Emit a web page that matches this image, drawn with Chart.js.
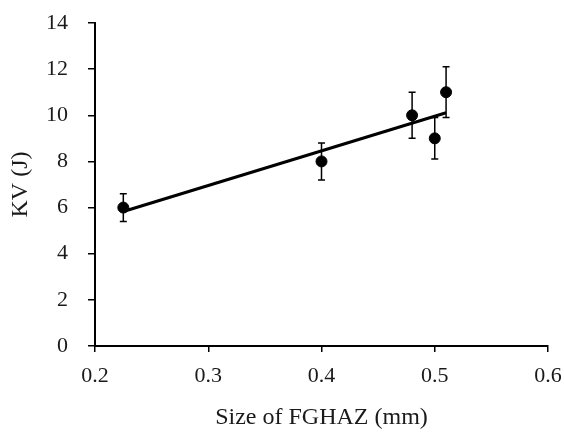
<!DOCTYPE html>
<html>
<head>
<meta charset="utf-8">
<script src="https://cdn.jsdelivr.net/npm/chart.js@4"></script>
<style>
  html, body { margin: 0; padding: 0; background: #fff; }
  #wrap { width: 564px; height: 432px; }
</style>
</head>
<body>
<div id="wrap"><canvas id="grafico" width="564" height="432"></canvas></div>
<script>
// valores
const tamanhoFGHAZ = [0.225, 0.4, 0.48, 0.5, 0.51]
const energiaKV = [6, 8, 10, 9, 11]
const erroKV = [0.6, 0.8, 1.0, 0.9, 1.1]
const tendenciaX = [0.225, 0.51]
const tendenciaY = [5.83, 10.11]

const fonteTicks = { family: '"Liberation Serif", serif', size: 22 }
const fonteTitulo = { family: '"Liberation Serif", serif', size: 24, lineHeight: 1 }

// barras de erro desenhadas com as escalas do proprio chart
const barrasErro = {
  id: 'barrasErro',
  afterDatasetsDraw(chart) {
    const { ctx, scales: { x, y } } = chart
    ctx.save()
    ctx.strokeStyle = '#000'
    ctx.lineWidth = 1.5
    tamanhoFGHAZ.forEach((v, i) => {
      const px = x.getPixelForValue(v)
      const yt = y.getPixelForValue(energiaKV[i] + erroKV[i])
      const yb = y.getPixelForValue(energiaKV[i] - erroKV[i])
      ctx.beginPath()
      ctx.moveTo(px, yt); ctx.lineTo(px, yb)
      ctx.moveTo(px - 3.5, yt); ctx.lineTo(px + 3.5, yt)
      ctx.moveTo(px - 3.5, yb); ctx.lineTo(px + 3.5, yb)
      ctx.stroke()
    })
    ctx.restore()
  }
}

new Chart(document.getElementById('grafico').getContext('2d'), {
  type: 'scatter',
  data: {
    datasets: [
      {
        type: 'line',
        data: tendenciaX.map((v, i) => ({ x: v, y: tendenciaY[i] })),
        borderColor: '#000',
        borderWidth: 3,
        pointRadius: 0,
        fill: false
      },
      {
        data: tamanhoFGHAZ.map((v, i) => ({ x: v, y: energiaKV[i] })),
        backgroundColor: '#000',
        borderColor: '#000',
        pointRadius: 5.5,
        pointHoverRadius: 5.5
      }
    ]
  },
  options: {
    responsive: false,
    animation: false,
    layout: { padding: { top: 23, right: 16, left: 0, bottom: 0 } },
    plugins: { legend: { display: false }, tooltip: { enabled: false } },
    scales: {
      x: {
        type: 'linear',
        min: 0.2, max: 0.6,
        // tira o padding automatico dos rotulos pra area do grafico ficar no lugar certo
        afterFit(s) { s.height = 86; s.paddingLeft = 0; s.paddingRight = 0 },
        ticks: { stepSize: 0.1, color: '#1a1a1a', font: fonteTicks, padding: 11, callback: v => v.toFixed(1) },
        grid: { drawOnChartArea: false, color: '#000', lineWidth: 1.5, tickLength: 6 },
        border: { color: '#000', width: 2 },
        title: { display: true, text: 'Size of FGHAZ (mm)', color: '#1a1a1a', font: fonteTitulo, padding: { top: 0, bottom: 2 } }
      },
      y: {
        min: 0, max: 14,
        afterFit(s) { s.width = 95; s.paddingTop = 0; s.paddingBottom = 0 },
        ticks: { stepSize: 2, color: '#1a1a1a', font: fonteTicks, padding: 20 },
        grid: { drawOnChartArea: false, color: '#000', lineWidth: 1.5, tickLength: 7 },
        border: { color: '#000', width: 2 },
        title: { display: true, text: 'KV (J)', color: '#1a1a1a', font: fonteTitulo, padding: { top: 9, bottom: 0 } }
      }
    }
  },
  plugins: [barrasErro]
})
</script>
</body>
</html>
